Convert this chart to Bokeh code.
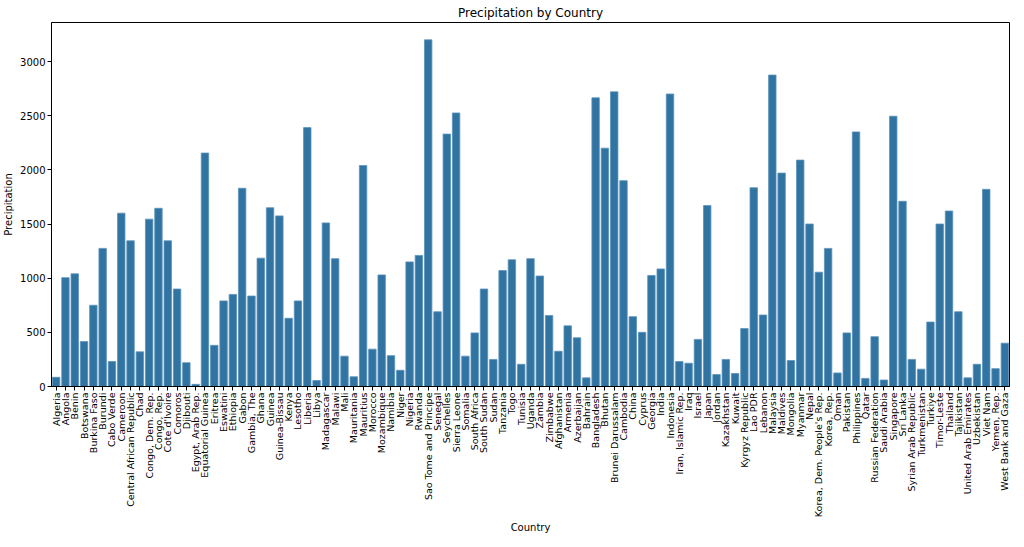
import math
from bokeh.plotting import figure
from bokeh.models import ColumnDataSource, FactorRange, Range1d, SingleIntervalTicker
from bokeh.embed import file_html
from bokeh.resources import INLINE

countries = [
    "Algeria", "Angola", "Benin", "Botswana", "Burkina Faso", "Burundi", "Cabo Verde",
    "Cameroon", "Central African Republic", "Chad", "Congo, Dem. Rep.", "Congo, Rep.",
    "Cote d'Ivoire", "Comoros", "Djibouti", "Egypt, Arab Rep.", "Equatorial Guinea",
    "Eritrea", "Eswatini", "Ethiopia", "Gabon", "Gambia, The", "Ghana", "Guinea",
    "Guinea-Bissau", "Kenya", "Lesotho", "Liberia", "Libya", "Madagascar", "Malawi",
    "Mali", "Mauritania", "Mauritius", "Morocco", "Mozambique", "Namibia", "Niger",
    "Nigeria", "Rwanda", "Sao Tome and Principe", "Senegal", "Seychelles",
    "Sierra Leone", "Somalia", "South Africa", "South Sudan", "Sudan", "Tanzania",
    "Togo", "Tunisia", "Uganda", "Zambia", "Zimbabwe", "Afghanistan", "Armenia",
    "Azerbaijan", "Bahrain", "Bangladesh", "Bhutan", "Brunei Darussalam", "Cambodia",
    "China", "Cyprus", "Georgia", "India", "Indonesia", "Iran, Islamic Rep.", "Iraq",
    "Israel", "Japan", "Jordan", "Kazakhstan", "Kuwait", "Kyrgyz Republic", "Lao PDR",
    "Lebanon", "Malaysia", "Maldives", "Mongolia", "Myanmar", "Nepal",
    "Korea, Dem. People's Rep.", "Korea, Rep.", "Oman", "Pakistan", "Philippines",
    "Qatar", "Russian Federation", "Saudi Arabia", "Singapore", "Sri Lanka",
    "Syrian Arab Republic", "Turkmenistan", "Turkiye", "Timor-Leste", "Thailand",
    "Tajikistan", "United Arab Emirates", "Uzbekistan", "Viet Nam", "Yemen, Rep.",
    "West Bank and Gaza",
]

precipitation = [
    85, 1005, 1040, 415, 750, 1275, 230,
    1600, 1345, 320, 1545, 1645,
    1345, 900, 220, 20, 2155,
    380, 790, 850, 1830, 835, 1185, 1650,
    1575, 630, 790, 2390, 55, 1510, 1180,
    280, 90, 2040, 345, 1030, 285, 150,
    1150, 1210, 3200, 690, 2330,
    2525, 280, 495, 900, 250, 1070,
    1170, 205, 1180, 1020, 655, 325, 560,
    450, 80, 2665, 2200, 2720, 1900,
    645, 500, 1025, 1085, 2700, 230, 215,
    435, 1670, 110, 250, 120, 535, 1835,
    660, 2875, 1970, 240, 2090, 1500,
    1055, 1275, 125, 495, 2350,
    75, 460, 60, 2495, 1710,
    250, 160, 595, 1500, 1620,
    690, 80, 205, 1820, 165,
    400,
]

y_ticks_interval = 500

source = ColumnDataSource(data=dict(country=countries, precipitation=precipitation))

p = figure(
    frame_width=958, frame_height=364,
    x_range=FactorRange(factors=countries, range_padding=0),
    y_range=Range1d(0, max(precipitation) * 1.05),
    output_backend="svg", toolbar_location=None,
    title="Precipitation by Country",
)

p.vbar(x="country", top="precipitation", width=0.8, source=source,
       fill_color="#3274a1", line_color="#5b93bd", line_width=0.8)

p.min_border_left = 40
p.min_border_right = 4
p.min_border_top = 19
p.min_border_bottom = 10

p.title.align = "center"
p.title.text_font = "DejaVu Sans"
p.title.text_font_size = "12px"
p.title.text_font_style = "normal"
p.title.text_color = "black"
p.title.standoff = 6

p.xgrid.grid_line_color = None
p.ygrid.grid_line_color = None
p.outline_line_color = "black"
p.outline_line_width = 1
p.outline_line_alpha = 1

p.yaxis.ticker = SingleIntervalTicker(interval=y_ticks_interval)
p.yaxis.minor_tick_line_color = None
p.xaxis.major_label_orientation = math.pi / 2

for ax in (p.xaxis, p.yaxis):
    ax.axis_line_color = "black"
    ax.major_tick_line_color = "black"
    ax.major_tick_out = 4
    ax.major_tick_in = 0
    ax.major_label_text_font = "DejaVu Sans"
    ax.major_label_text_font_size = "10px"
    ax.major_label_text_color = "black"
    ax.major_label_standoff = 2
    ax.axis_label_text_font = "DejaVu Sans"
    ax.axis_label_text_font_size = "10px"
    ax.axis_label_text_font_style = "normal"
    ax.axis_label_text_color = "black"
    ax.axis_label_standoff = 4

p.xaxis.major_label_text_font_size = "9.5px"
p.xaxis.axis_label_standoff = 2
p.yaxis.axis_label_standoff = 3

p.xaxis.axis_label = "Country"
p.yaxis.axis_label = "Precipitation"

open("out.html", "w").write(file_html(p, INLINE))
